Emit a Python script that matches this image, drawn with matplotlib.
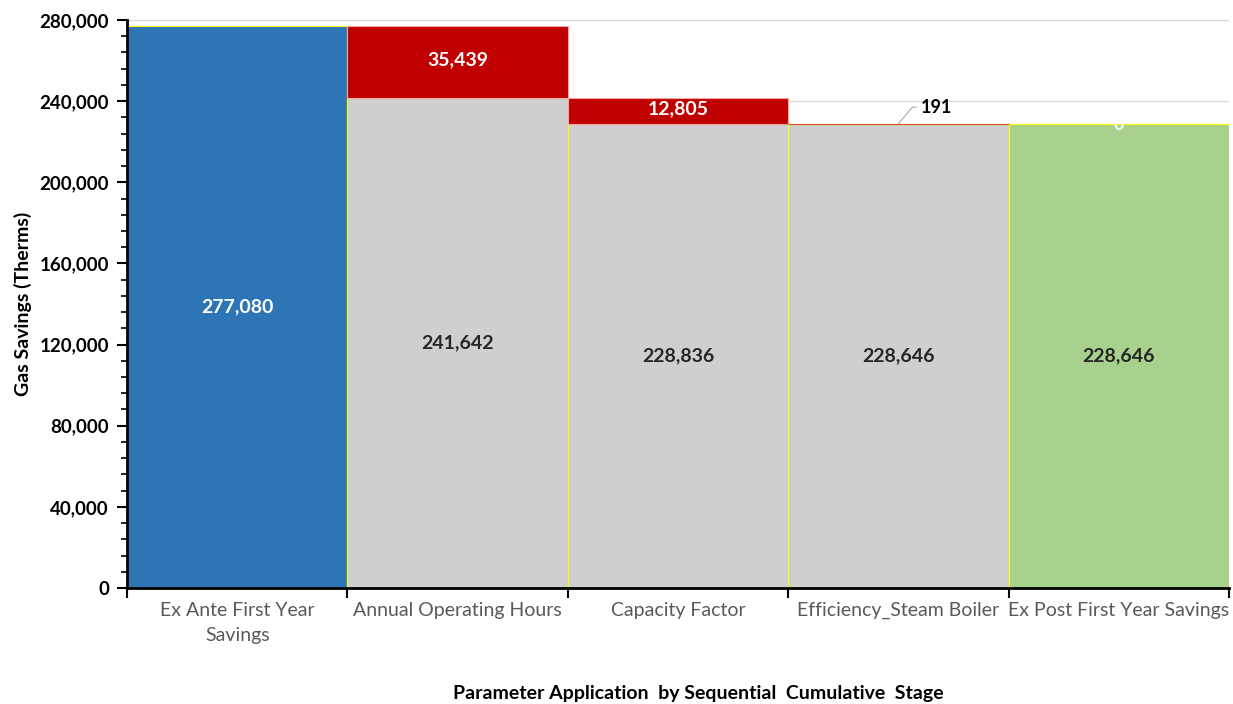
import matplotlib
matplotlib.use("Agg")
import matplotlib.pyplot as plt
from matplotlib.ticker import FuncFormatter, MultipleLocator

plt.rcParams["font.family"] = ["Lato", "DejaVu Sans"]

categories = ["Ex Ante First Year\nSavings", "Annual Operating Hours",
              "Capacity Factor", "Efficiency_Steam Boiler",
              "Ex Post First Year Savings"]
base_values = [277080, 241642, 228836, 228646, 228646]
delta_values = [0, 35439, 12805, 191, 0]
delta_labels = ["", "35,439", "12,805", "191", "0"]

BLUE = "#2e75b6"
GREY = "#d0cece"
GREEN = "#a9d18e"
RED = "#c00000"
base_colors = [BLUE, GREY, GREY, GREY, GREEN]
base_text = ["white", "#262626", "#262626", "#262626", "#262626"]

fig = plt.figure(figsize=(12.33, 7.04), dpi=100)
ax = fig.add_axes([0.103, 0.1648, 0.8938, 0.8068])

x = list(range(len(categories)))
ax.bar(x, base_values, width=1.0, color=base_colors, edgecolor="#ffff00",
       linewidth=0.8, zorder=2)
ax.bar(x[1:3], delta_values[1:3], bottom=base_values[1:3], width=1.0,
       color=RED, edgecolor="#f4a6a0", linewidth=0.8, zorder=2)
# thin delta on efficiency bar shows as an orange line
ax.bar(x[3], delta_values[3], bottom=base_values[3], width=1.0,
       color="#e0501e", edgecolor="#e0501e", linewidth=0.8, zorder=3)

for i, v in enumerate(base_values):
    ax.text(i, v / 2, f"{v:,}", ha="center", va="center", fontsize=14,
            fontweight="bold", color=base_text[i], zorder=4)

for i in (1, 2):
    ax.text(i, base_values[i] + delta_values[i] / 2 + 1200, delta_labels[i],
            ha="center", va="center", fontsize=14, fontweight="bold",
            color="white", zorder=4)

# small delta with leader line
ax.annotate(delta_labels[3], xy=(3.0, base_values[3] + delta_values[3]),
            xytext=(3.1, base_values[3] + 8400), fontsize=13,
            fontweight="bold", color="black", ha="left", va="center",
            arrowprops=dict(arrowstyle="-", color="#a6a6a6", lw=0.8,
                            shrinkA=1, shrinkB=0,
                            connectionstyle="angle,angleA=0,angleB=50,rad=0"),
            zorder=4)
ax.text(4, base_values[4] - 300, delta_labels[4], ha="center", va="center",
        fontsize=13, fontweight="bold", color="white", zorder=4)

ax.set_xlim(-0.5, 4.5)
ax.set_ylim(0, 280000)
ax.yaxis.set_major_locator(MultipleLocator(40000))
ax.yaxis.set_minor_locator(MultipleLocator(8000))
ax.yaxis.set_major_formatter(FuncFormatter(lambda v, p: f"{int(v):,}"))
ax.grid(axis="y", color="#d9d9d9", linewidth=1.0, zorder=0)
ax.set_axisbelow(True)

ax.set_xticks([i - 0.5 for i in range(len(categories) + 1)])
ax.set_xticklabels([])
ax.set_xticks(x, minor=True)
ax.set_xticklabels(categories, minor=True, fontsize=14, color="#595959",
                   linespacing=1.55)
ax.tick_params(axis="x", which="minor", length=0, pad=10)
ax.tick_params(axis="x", which="major", length=7, width=1.5, color="black")
ax.tick_params(axis="y", which="major", length=7, width=1.5, labelsize=13.5,
               color="black", pad=6)
ax.tick_params(axis="y", which="minor", length=4, width=1.2, color="black")
for lbl in ax.get_yticklabels():
    lbl.set_fontweight("bold")

for side in ("top", "right"):
    ax.spines[side].set_visible(False)
ax.spines["left"].set_linewidth(2)
ax.spines["bottom"].set_linewidth(2)
ax.spines["left"].set_zorder(5)
ax.spines["bottom"].set_zorder(5)

ax.set_ylabel("Gas Savings (Therms)", fontsize=14, fontweight="bold", labelpad=5)
fig.text(698 / 1233, 1 - 693 / 704, "Parameter Application  by Sequential  Cumulative  Stage",
         ha="center", va="center", fontsize=14, fontweight="bold")

fig.savefig("out.png", dpi=100, facecolor="white")
